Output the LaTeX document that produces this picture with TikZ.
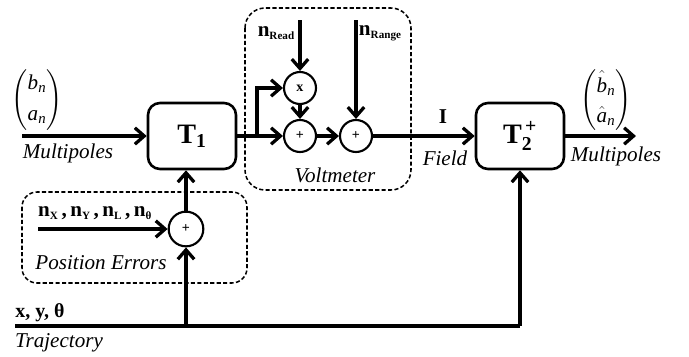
\documentclass[tikz,border=0pt]{standalone}
\usepackage{amsmath}
\usepackage{fontspec}
\setmainfont{Liberation Serif}
\usetikzlibrary{arrows.meta,positioning}

\newcommand{\subtag}[1]{\raisebox{-0.35ex}{\fontsize{9.5}{10}\selectfont\bfseries #1}}

\begin{document}
\begin{tikzpicture}[
  x=0.03cm, y=-0.03cm,
  every node/.style={font=\fontsize{18}{21}\selectfont},
  block/.style={rectangle, rounded corners=0.36cm, draw, line width=2.2pt,
    minimum width=2.64cm, minimum height=1.98cm, font=\fontsize{24}{28}\selectfont\bfseries},
  junction/.style={circle, draw, line width=1.8pt, minimum size=0.96cm, inner sep=0pt,
    font=\fontsize{12}{14}\selectfont\bfseries},
  group/.style={draw, line width=1.3pt, dash pattern=on 3.5pt off 2pt},
  signal/.style={line width=2.8pt, -{Straight Barb[length=8pt,width=14pt]}},
  wire/.style={line width=2.8pt},
  lbl/.style={font=\fontsize{18}{21}\selectfont\itshape},
  sym/.style={font=\fontsize{18}{21}\selectfont\bfseries},
  vector/.style={inner sep=0pt}
]
\useasboundingbox (0,0) rectangle (689,356);

% dashed groups
\draw[group, rounded corners=0.6cm] (245,8) rectangle (411,190);
\draw[group, rounded corners=0.45cm] (22,192) rectangle (247,283);

% blocks and junctions
\node[block] (t1) at (192,136) {$\text{T}_{\text{1}}$};
\node[block] (t2) at (520,136) {$\text{T}_{\text{2}}^{\,\text{+}}$};
\node[junction] (mult) at (300,88) {x};
\node[junction] (sumr) at (300,136) {+};
\node[junction] (sumv) at (356,136) {+};
\node[junction, minimum size=1.04cm] (sump) at (186,229) {+};

% free ends
\coordinate (in) at (22,136);
\coordinate (out) at (636,136);
\coordinate (split) at (257,136);
\coordinate (read) at (300,20);
\coordinate (range) at (356,20);
\coordinate (perr) at (38,229);
\coordinate (traj) at (15,326);
\coordinate (tap) at (186,326);
\coordinate (turn) at (520,326);

% labels
\node[vector] (vin) at (37,100) {$\left(\begin{array}{@{}c@{}}\text{\itshape b}_{\text{\itshape n}}\\[6pt]\text{\itshape a}_{\text{\itshape n}}\end{array}\right)$};
\node[lbl] (mpin) at (68,153) {Multipoles};
\node[vector] (vout) at (606,100) {$\left(\begin{array}{@{}c@{}}\hat{\rule{0pt}{0.8em}\text{\itshape b}}_{\text{\itshape n}}\\[4pt]\hat{\text{\itshape a}}_{\text{\itshape n}}\end{array}\right)$};
\node[lbl] (mpout) at (616,156) {Multipoles};
\node[sym] (nread) at (276,33) {n\subtag{Read}};
\node[sym] (nrange) at (380,33) {n\subtag{Range}};
\node[lbl] (volt) at (335,175) {Voltmeter};
\node[sym] (cur) at (443,117) {I};
\node[lbl] (field) at (445,158) {Field};
\node[sym, anchor=west, inner sep=0pt] (nerr) at (38,213) {n\subtag{X}\,,\,n\subtag{Y}\,,\,n\subtag{L}\,,\,n\subtag{θ}};
\node[lbl] (poserr) at (101,263) {Position Errors};
\node[sym, font=\fontsize{17}{20}\selectfont\bfseries] (xyt) at (40,313) {x, y, θ};
\node[lbl] (trajl) at (59,343) {Trajectory};

% connectors
\draw[signal] (in) -- (t1);
\draw[wire] (t1) -- (split);
\draw[signal] (split) -- (sumr);
\draw[signal] (split) |- (mult);
\draw[signal] (read) -- (mult);
\draw[signal] (mult) -- (sumr);
\draw[signal] (sumr) -- (sumv);
\draw[signal] (range) -- (sumv);
\draw[signal] (sumv) -- (t2);
\draw[signal] (t2) -- (out);
\draw[signal] (perr) -- (sump);
\draw[signal] (sump.north) -- (sump.north |- t1.south);
\draw[wire] (traj) -- (turn);
\draw[signal] (turn) -- (t2);
\draw[signal] (tap) -- (sump);
\end{tikzpicture}
\end{document}
